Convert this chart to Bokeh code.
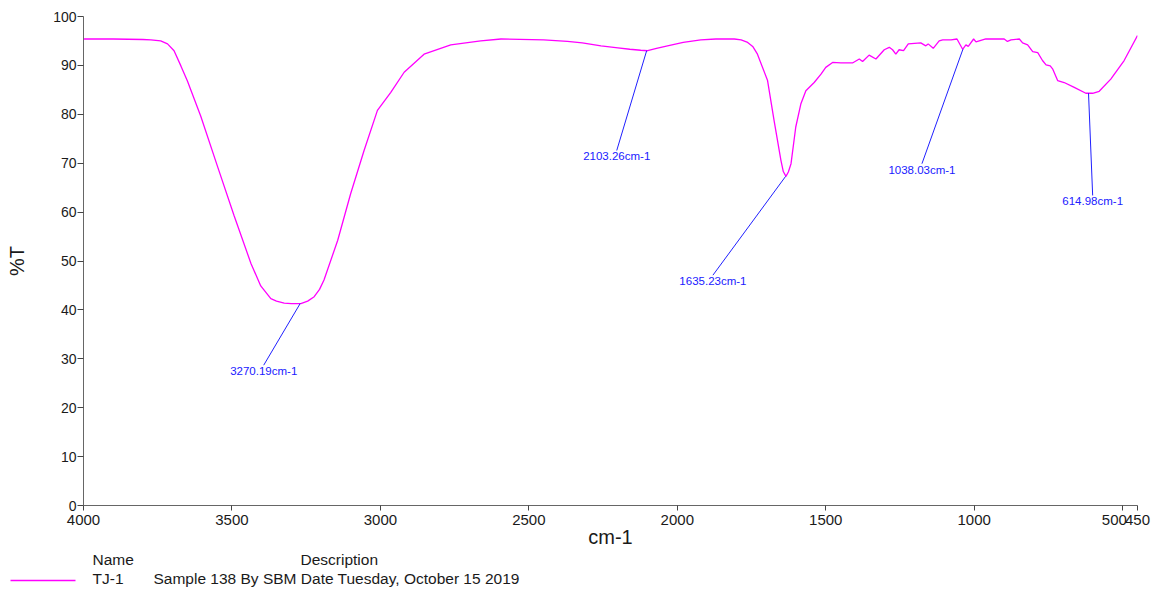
from bokeh.plotting import figure
from bokeh.models import Range1d, FixedTicker
from bokeh.layouts import column
from bokeh.embed import file_html
from bokeh.resources import INLINE
from bokeh.core.properties import value

# ---- data ----
wavenumber = [4000, 3900, 3800, 3773, 3740, 3717, 3695, 3672, 3650, 3605,
              3549, 3493, 3436, 3403, 3369, 3350, 3324, 3300, 3268, 3245,
              3223, 3205, 3190, 3144, 3100, 3055, 3010, 2965, 2920, 2853,
              2763, 2662, 2594, 2450, 2370, 2320, 2257, 2200, 2160, 2123,
              2100, 2070, 2033, 1980, 1921, 1870, 1808, 1785, 1763, 1745,
              1730, 1696, 1674, 1651, 1643, 1634, 1626, 1617, 1601, 1584,
              1567, 1539, 1516, 1500, 1477, 1449, 1410, 1387, 1376, 1354,
              1331, 1303, 1286, 1275, 1264, 1253, 1238, 1222, 1180, 1163,
              1155, 1138, 1118, 1106, 1078, 1058, 1039, 1028, 1020, 1002,
              994, 961, 899, 888, 876, 848, 837, 820, 803, 786,
              770, 758, 744, 736, 719, 697, 663, 624, 601, 579,
              540, 495, 450]
transmittance = [95.4, 95.4, 95.3, 95.2, 95.0, 94.4, 93.0, 89.9, 86.8, 79.6,
                 69.4, 59.3, 49.5, 44.9, 42.3, 41.8, 41.4, 41.3, 41.3, 41.8,
                 42.7, 44.2, 46.1, 54.2, 63.8, 72.6, 80.8, 84.5, 88.6, 92.3,
                 94.2, 95.0, 95.4, 95.2, 94.9, 94.6, 94.0, 93.6, 93.3, 93.1,
                 93.0, 93.5, 94.0, 94.7, 95.2, 95.4, 95.4, 95.2, 94.7, 93.8,
                 92.3, 86.9, 78.7, 70.6, 68.3, 67.3, 68.2, 69.9, 77.4, 82.1,
                 84.8, 86.5, 88.2, 89.6, 90.6, 90.5, 90.5, 91.3, 90.8, 92.1,
                 91.3, 93.2, 93.7, 93.2, 92.3, 93.2, 93.0, 94.4, 94.6, 94.0,
                 94.4, 93.5, 95.0, 95.2, 95.2, 95.4, 93.3, 94.2, 93.9, 95.4,
                 94.8, 95.4, 95.4, 94.9, 95.2, 95.4, 94.6, 94.2, 92.8, 92.6,
                 91.0, 90.1, 89.9, 89.3, 86.9, 86.5, 85.5, 84.3, 84.3, 84.7,
                 87.2, 91.0, 96.1]

peak_wn = [3270.19, 2103.26, 1635.23, 1038.03, 614.98]
peak_T = [41.3, 93.0, 67.3, 93.3, 84.3]
peak_labels = ["3270.19cm-1", "2103.26cm-1", "1635.23cm-1", "1038.03cm-1", "614.98cm-1"]
label_wn = [3393, 2204, 1880, 1176, 601]
label_T = [28.7, 72.6, 47.1, 69.9, 63.4]

x_ticks = [4000, 3500, 3000, 2500, 2000, 1500, 1000, 500, 450]
y_ticks = [0, 10, 20, 30, 40, 50, 60, 70, 80, 90, 100]

series_name = "TJ-1"
series_desc = "Sample 138 By SBM Date Tuesday, October 15 2019"
legend_headers = ["Name", "Description"]

FONT = "Liberation Sans"
MAGENTA = "#ff00ff"
BLUE = "#2020ff"
DARK = "#1a1a1a"

W = 1156
H_MAIN = 550
p = figure(width=W, height=H_MAIN, output_backend="svg", toolbar_location=None,
           x_range=Range1d(4000, 450), y_range=Range1d(0, 100),
           min_border_left=83, min_border_right=19, min_border_top=16,
           min_border_bottom=H_MAIN - 506)
p.frame_align = False
p.outline_line_color = None
p.xgrid.visible = False
p.ygrid.visible = False

p.line(wavenumber, transmittance, line_color=MAGENTA, line_width=1.3)

p.segment(x0=peak_wn, y0=peak_T, x1=label_wn, y1=label_T, line_color=BLUE, line_width=1)
p.text(x=label_wn, y=label_T, text=peak_labels, text_align="center", text_baseline="top",
       text_font=value(FONT), text_font_size="11.5px", text_color=BLUE)

for ax in (p.xaxis, p.yaxis):
    ax.axis_line_color = "#666666"
    ax.major_tick_line_color = "#444444"
    ax.minor_tick_line_color = None
    ax.major_tick_in = 0
    ax.major_label_text_font = FONT
    ax.major_label_text_color = DARK
    ax.axis_label_text_font = FONT
    ax.axis_label_text_font_size = "20px"
    ax.axis_label_text_font_style = "normal"
    ax.axis_label_text_color = DARK

p.xaxis.major_label_text_font_size = "15px"
p.yaxis.major_label_text_font_size = "14px"
p.xaxis.ticker = FixedTicker(ticks=x_ticks)
p.xaxis.major_label_overrides = {500: "500\u2007\u2007"}
p.yaxis.ticker = FixedTicker(ticks=y_ticks)
p.xaxis.major_tick_out = 5
p.xaxis.major_label_standoff = 0
p.xaxis.axis_label = "cm-1"
p.xaxis.axis_label_standoff = -5
p.yaxis.major_tick_out = 6
p.yaxis.major_label_standoff = 1
p.yaxis.axis_label = "%T"
p.yaxis.axis_label_standoff = 22

# ---- legend block below the chart (pixel coordinates, y downward) ----
LH = 589 - H_MAIN
lg = figure(width=W, height=LH, output_backend="svg", toolbar_location=None,
            x_range=Range1d(0, W), y_range=Range1d(LH, 0),
            x_axis_type=None, y_axis_type=None,
            min_border_left=0, min_border_right=0, min_border_top=0, min_border_bottom=0)
lg.frame_align = False
lg.outline_line_color = None
lg.xgrid.visible = False
lg.ygrid.visible = False
row1 = 559 - H_MAIN
row2 = 578 - H_MAIN
lg.text(x=[92, 300], y=[row1, row1], text=legend_headers, text_align="left",
        text_baseline="middle", text_font=value(FONT), text_font_size="15.5px", text_color=DARK)
lg.text(x=[92, 153], y=[row2, row2], text=[series_name, series_desc], text_align="left",
        text_baseline="middle", text_font=value(FONT), text_font_size="15.5px", text_color=DARK)
lg.line(x=[10, 75], y=[580 - H_MAIN, 580 - H_MAIN], line_color=MAGENTA, line_width=1.3)

layout = column(p, lg, spacing=0)
open("out.html", "w").write(file_html(layout, INLINE))
